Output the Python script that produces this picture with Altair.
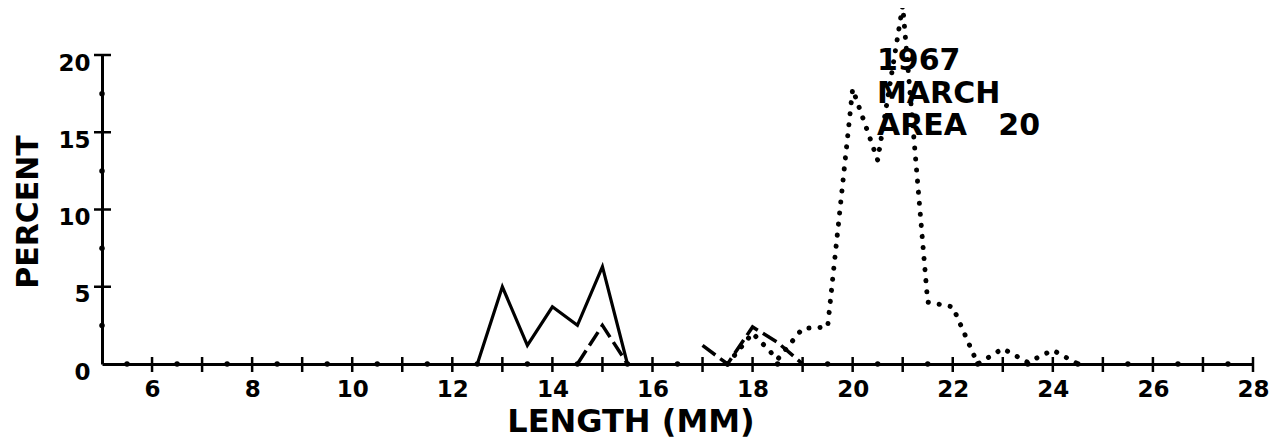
import altair as alt
import pandas as pd

# ---- data ----
solid_x = [12.5, 13.0, 13.5, 14.0, 14.5, 15.0, 15.5]
solid_y = [0.0, 5.0, 1.2, 3.7, 2.5, 6.3, 0.0]

dashed_seg = ["a", "a", "a", "b", "b", "b", "b", "b"]
dashed_x = [14.5, 15.0, 15.5, 17.0, 17.5, 18.0, 18.5, 19.0]
dashed_y = [0.0, 2.5, 0.0, 1.2, 0.0, 2.4, 1.4, 0.0]

dotted_x = [17.5, 18.0, 18.5, 19.0, 19.5, 20.0, 20.5, 21.0, 21.5, 22.0, 22.5, 23.0, 23.5, 24.0, 24.5]
dotted_y = [0.0, 2.0, 0.3, 2.3, 2.4, 17.8, 13.2, 23.2, 4.0, 3.7, 0.0, 1.0, 0.1, 0.9, 0.0]

x_labels = [6, 8, 10, 12, 14, 16, 18, 20, 22, 24, 26, 28]
y_labels = [0, 5, 10, 15, 20]
x_major = list(range(6, 29))
x_minor = [v + 0.5 for v in range(5, 28)]
y_major = [5, 10, 15, 20]
y_minor = [2.5, 7.5, 12.5, 17.5]

annot_lines = ["1967", "MARCH", "AREA\u00a0\u00a0\u00a020"]

W, H = 1151, 309
FONT = "DejaVu Sans"

xs = alt.Scale(domain=[5, 28], nice=False, zero=False)
ys = alt.Scale(domain=[0, 20], nice=False, zero=False)

x_axis = alt.Axis(
    values=x_labels, format="d", title=None, grid=False, ticks=False,
    domainColor="black", domainWidth=3, labelColor="black",
    labelFont=FONT, labelFontWeight="bold", labelFontSize=23,
    labelPadding=14, labelFlush=False)
y_axis = alt.Axis(
    values=y_labels, format="d", title=None, grid=False, ticks=False,
    domainColor="black", domainWidth=3, labelColor="black",
    labelFont=FONT, labelFontWeight="bold", labelFontSize=23,
    labelPadding=12, labelOffset=8, labelFlush=False)


def X(field):
    return alt.X(field, scale=xs, axis=x_axis)


def Y(field):
    return alt.Y(field, scale=ys, axis=y_axis)


solid_df = pd.DataFrame({"x": solid_x, "y": solid_y})
dashed_df = pd.DataFrame({"seg": dashed_seg, "x": dashed_x, "y": dashed_y})
dotted_df = pd.DataFrame({"x": dotted_x, "y": dotted_y})

solid = alt.Chart(solid_df).mark_line(color="black", strokeWidth=3.2).encode(
    x=X("x:Q"), y=Y("y:Q"))

dashed = alt.Chart(dashed_df).mark_line(
    color="black", strokeWidth=3.5, strokeDash=[16, 6]).encode(
    x=X("x:Q"), y=Y("y:Q"), detail="seg:N")

dotted = alt.Chart(dotted_df).mark_line(
    color="black", strokeWidth=5, strokeDash=[0.1, 11], strokeCap="round").encode(
    x=X("x:Q"), y=Y("y:Q"))

xmaj = alt.Chart(pd.DataFrame({"x": x_major})).mark_rule(color="black", strokeWidth=2.5).encode(
    x=X("x:Q"), y=alt.value(H - 7), y2=alt.value(H + 8))
xmin = alt.Chart(pd.DataFrame({"x": x_minor, "y": [0.0] * len(x_minor)})).mark_circle(
    color="black", size=30, opacity=1).encode(x=X("x:Q"), y=Y("y:Q"))
ymaj = alt.Chart(pd.DataFrame({"y": y_major})).mark_rule(color="black", strokeWidth=2.5).encode(
    y=Y("y:Q"), x=alt.value(-8), x2=alt.value(9))
ymin = alt.Chart(pd.DataFrame({"y": y_minor, "x": [5.0] * len(y_minor)})).mark_circle(
    color="black", size=30, opacity=1).encode(x=X("x:Q"), y=Y("y:Q"))

xtitle = alt.Chart(pd.DataFrame({"t": ["LENGTH (MM)"]})).mark_text(
    font=FONT, fontWeight="bold", fontSize=32, color="black",
    align="center", baseline="alphabetic").encode(
    text="t:N", x=alt.value(529), y=alt.value(377))

ytitle = alt.Chart(pd.DataFrame({"t": ["PERCENT"]})).mark_text(
    font=FONT, fontWeight="bold", fontSize=30, color="black",
    align="center", baseline="middle", angle=270).encode(
    text="t:N", x=alt.value(-73), y=alt.value(157))

annot = []
for i, line in enumerate(annot_lines):
    annot.append(alt.Chart(pd.DataFrame({"t": [line]})).mark_text(
        font=FONT, fontWeight="bold", fontSize=30, color="black",
        align="left", baseline="alphabetic").encode(
        text="t:N", x=alt.value(775), y=alt.value(15 + 32.5 * i)))

chart = alt.layer(xmaj, xmin, ymaj, ymin, solid, dashed, dotted,
                  xtitle, ytitle, *annot).properties(
    width=W, height=H,
    autosize=alt.AutoSizeParams(type="none"),
    padding={"left": 94, "top": 47, "right": 16, "bottom": 80},
    background="white",
).configure_view(stroke=None)

chart.save("out.html", embed_options={"renderer": "svg", "actions": False})
